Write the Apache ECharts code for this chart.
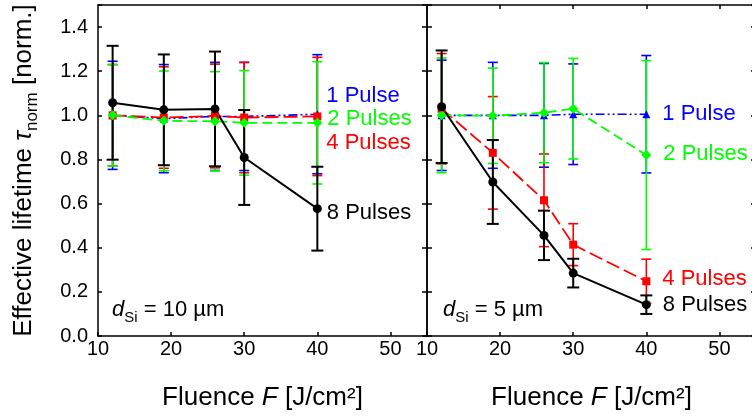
<!DOCTYPE html>
<html><head><meta charset="utf-8">
<script src="https://cdn.jsdelivr.net/npm/echarts@6/dist/echarts.min.js"></script>
<style>html,body{margin:0;padding:0;background:#fff}#c{width:752px;height:416px}</style>
</head><body><div id="c"></div>
<script>
// ---- data ----
const fluence = [12, 19, 26, 30, 40];
const xTicks = [10, 20, 30, 40, 50];
const yTicks = [0.0, 0.2, 0.4, 0.6, 0.8, 1.0, 1.2, 1.4];
const seriesNames = ['1 Pulse', '2 Pulses', '4 Pulses', '8 Pulses'];
const thickness = ['10', '5'];

// left panel: d_Si = 10 um
const l1Pulse  = [1.000, 0.985, 0.995, 0.995, 1.005];
const l1Err    = [0.245, 0.245, 0.245, 0.245, 0.270];
const l2Pulses = [1.000, 0.975, 0.973, 0.966, 0.966];
const l2Err    = [0.230, 0.226, 0.225, 0.237, 0.277];
const l4Pulses = [1.000, 0.990, 0.997, 0.990, 0.995];
const l4Err    = [0.230, 0.230, 0.235, 0.250, 0.268];
const l8Pulses = [1.057, 1.025, 1.029, 0.809, 0.577];
const l8Err    = [0.258, 0.251, 0.260, 0.215, 0.190];

// right panel: d_Si = 5 um
const r1Pulse  = [1.000, 1.000, 1.000, 1.005, 1.005];
const r1Err    = [0.250, 0.240, 0.235, 0.228, 0.266];
const r2Pulses = [1.000, 0.998, 1.012, 1.030, 0.820];
const r2Err    = [0.260, 0.216, 0.227, 0.228, 0.428];
const r4Pulses = [1.030, 0.830, 0.615, 0.414, 0.248];
const r4Err    = [0.250, 0.255, 0.210, 0.095, 0.100];
const r8Pulses = [1.039, 0.698, 0.456, 0.285, 0.142];
const r8Err    = [0.255, 0.190, 0.112, 0.065, 0.042];

// ---- styling ----
const FONT = 'Liberation Sans';
const BLUE = '#0000ff', GREEN = '#00ff00', RED = '#ff0000', BLACK = '#000000';
const styles = [
  {color: BLUE,  symbol: 'triangle', size: 8, dash: [9, 3, 2, 3, 2, 3], width: 1.6, cap: 5, ew: 1.6},
  {color: RED,   symbol: 'rect',     size: 8, dash: [14, 5],            width: 1.8, cap: 5, ew: 1.6},
  {color: GREEN, symbol: 'diamond',  size: 10, dash: [10, 5],           width: 1.8, cap: 5, ew: 1.6},
  {color: BLACK, symbol: 'circle',   size: 9, dash: 'solid',            width: 2,   cap: 6, ew: 2}
];
// order of drawing: blue, red, green, black
const panels = [
  {xi: 0, yi: 0, vals: [l1Pulse, l4Pulses, l2Pulses, l8Pulses], errs: [l1Err, l4Err, l2Err, l8Err],
   names: [seriesNames[0], seriesNames[2], seriesNames[1], seriesNames[3]],
   lbl: [{dist: 5, dy: -18}, {dist: 5, dy: 27}, {dist: 5, dy: -4}, {dist: 5, dy: 4}]},
  {xi: 2, yi: 2, vals: [r1Pulse, r4Pulses, r2Pulses, r8Pulses], errs: [r1Err, r4Err, r2Err, r8Err],
   names: [seriesNames[0], seriesNames[2], seriesNames[1], seriesNames[3]],
   lbl: [{dist: 12, dy: 0}, {dist: 12, dy: -2}, {dist: 12, dy: -1}, {dist: 12, dy: 0}]}
];

function errSeries(xi, yi, vals, errs, st) {
  return {
    type: 'custom', xAxisIndex: xi, yAxisIndex: yi, silent: true, animation: false,
    data: fluence.map((f, i) => [f, vals[i] - errs[i], vals[i] + errs[i]]),
    encode: {x: 0, y: [1, 2]},
    renderItem: (params, api) => {
      const x = api.value(0), lo = api.value(1), hi = api.value(2);
      const p1 = api.coord([x, hi]), p2 = api.coord([x, lo]);
      const s = {stroke: st.color, lineWidth: st.ew};
      return {type: 'group', children: [
        {type: 'line', shape: {x1: p1[0], y1: p1[1], x2: p2[0], y2: p2[1]}, style: s},
        {type: 'line', shape: {x1: p1[0] - st.cap, y1: p1[1], x2: p1[0] + st.cap, y2: p1[1]}, style: s},
        {type: 'line', shape: {x1: p2[0] - st.cap, y1: p2[1], x2: p2[0] + st.cap, y2: p2[1]}, style: s}
      ]};
    }
  };
}
function lineSeries(xi, yi, vals, st, name, lbl) {
  const last = fluence.length - 1;
  return {
    type: 'line', xAxisIndex: xi, yAxisIndex: yi, animation: false, silent: true,
    symbol: st.symbol, symbolSize: st.size, showSymbol: true,
    lineStyle: {color: st.color, width: st.width, type: st.dash},
    itemStyle: {color: st.color},
    label: {show: false},
    data: fluence.map((f, i) => i === last ? {
      value: [f, vals[i]],
      label: {show: true, formatter: name, position: 'right', distance: lbl.dist, offset: [0, lbl.dy],
              color: st.color, fontSize: 22, fontFamily: FONT}
    } : [f, vals[i]])
  };
}

const series = [];
panels.forEach(p => {
  for (let k = 0; k < 4; k++) {
    series.push(errSeries(p.xi, p.yi, p.vals[k], p.errs[k], styles[k]));
    series.push(lineSeries(p.xi, p.yi, p.vals[k], styles[k], p.names[k], p.lbl[k]));
  }
});

const axLine = {show: true, onZero: false, lineStyle: {color: '#000', width: 1.5}};
const xLabelFmt = v => xTicks.some(t => Math.abs(t - v) < 1e-6) ? String(v) : '';
const yLabelFmt = v => yTicks.some(t => Math.abs(t - v) < 1e-6) ? v.toFixed(1) : '';
const xName = '{n|Fluence }{i|F}{n| [J/cm²]}';
const xNameStyle = {fontSize: 26, fontFamily: FONT, color: '#000', lineHeight: 30,
  rich: {n: {fontSize: 26, fontFamily: FONT, lineHeight: 30}, i: {fontSize: 26, fontFamily: FONT, fontStyle: 'italic', lineHeight: 30}}};

function xAx(gi, pos, ticks, labels, named) {
  return {
    type: 'value', gridIndex: gi, position: pos, min: 10, max: 55, interval: 10,
    axisLine: axLine, splitLine: {show: false},
    axisTick: {show: ticks, inside: true, length: 4, lineStyle: {color: '#000', width: 1.5}},
    axisLabel: {show: labels, formatter: xLabelFmt, fontSize: 20, fontFamily: FONT, color: '#000', margin: 3},
    name: named ? xName : '', nameLocation: 'middle', nameGap: 47, nameTextStyle: xNameStyle
  };
}
function yAx(gi, pos, labels, len, named) {
  return {
    type: 'value', gridIndex: gi, position: pos, min: 0, max: 1.5, interval: 0.2,
    axisLine: axLine, splitLine: {show: false},
    axisTick: {show: true, inside: true, length: len, lineStyle: {color: '#000', width: 1.5}},
    axisLabel: {show: labels, formatter: yLabelFmt, fontSize: 20, fontFamily: FONT, color: '#000', margin: 10},
    name: named ? '{n|Effective lifetime }{t|τ}{s|norm}{n| [norm.]}' : '',
    nameLocation: 'middle', nameGap: 57, nameRotate: 90,
    nameTextStyle: {fontSize: 26, fontFamily: FONT, color: '#000', lineHeight: 34,
      rich: {n: {fontSize: 26, fontFamily: FONT, lineHeight: 34},
             t: {fontSize: 26, fontFamily: FONT, fontStyle: 'italic', lineHeight: 34},
             s: {fontSize: 17, fontFamily: FONT, verticalAlign: 'bottom', lineHeight: 17}}}
  };
}

const dRich = {
  i: {fontSize: 22, fontFamily: FONT, fontStyle: 'italic', lineHeight: 30, fill: '#000'},
  s: {fontSize: 15, fontFamily: FONT, verticalAlign: 'bottom', lineHeight: 15, fill: '#000'},
  n: {fontSize: 22, fontFamily: FONT, lineHeight: 30, fill: '#000'}
};

const option = {
  backgroundColor: '#fff',
  animation: false,
  grid: [
    {left: 98, top: 5, width: 329, height: 331, containLabel: false, outerBoundsMode: 'none'},
    {left: 427, top: 5, width: 329, height: 331, containLabel: false, outerBoundsMode: 'none'}
  ],
  xAxis: [
    xAx(0, 'bottom', true, true, true),
    xAx(0, 'top', false, false, false),
    xAx(1, 'bottom', true, true, true),
    xAx(1, 'top', true, false, false)
  ],
  yAxis: [
    yAx(0, 'left', true, 4, true),
    yAx(0, 'right', false, 5, false),
    yAx(1, 'left', false, 5, false),
    yAx(1, 'right', false, 5, false)
  ],
  graphic: [
    {type: 'text', left: 112, top: 299, silent: true,
     style: {text: '{i|d}{s|Si}{n| = ' + thickness[0] + ' µm}', rich: dRich, fill: '#000'}},
    {type: 'text', left: 443, top: 299, silent: true,
     style: {text: '{i|d}{s|Si}{n| = ' + thickness[1] + ' µm}', rich: dRich, fill: '#000'}}
  ],
  series: series
};

const chart = echarts.init(document.getElementById('c'), null, {renderer: 'canvas'});
chart.setOption(option);
</script>
</body></html>
